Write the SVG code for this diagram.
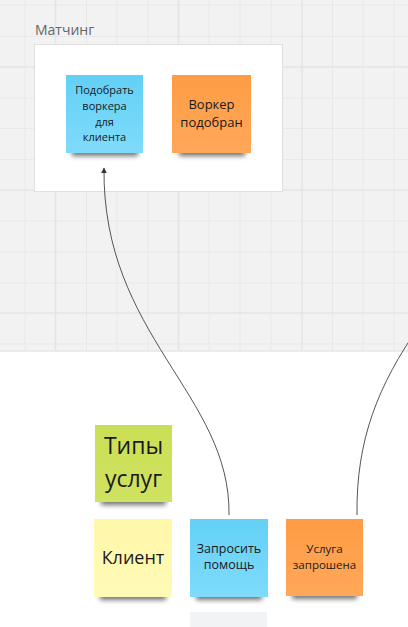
<svg xmlns="http://www.w3.org/2000/svg" width="408" height="627" viewBox="0 0 408 627">
<style>
.grid{stroke:#e8e8e8;stroke-width:1}
.gridM{stroke:#e4e4e4;stroke-width:1.5}
.t{font-family:"Open Sans","Noto Sans",sans-serif;fill:#1a1a1a;text-anchor:middle}
.conn{fill:none;stroke:#555;stroke-width:1}
.sh{fill:#000;opacity:0.55;filter:url(#blur)}
</style>
<defs>
<filter id="blur" x="-20%" y="-100%" width="140%" height="300%"><feGaussianBlur stdDeviation="2.5"/></filter>
<linearGradient id="blue" x1="0" y1="0" x2="0" y2="1"><stop offset="0" stop-color="#63d0f6"/><stop offset="1" stop-color="#7fdbfb"/></linearGradient>
<linearGradient id="orange" x1="0" y1="0" x2="0" y2="1"><stop offset="0" stop-color="#ff9c44"/><stop offset="1" stop-color="#ffa85a"/></linearGradient>
<linearGradient id="green" x1="0" y1="0" x2="0" y2="1"><stop offset="0" stop-color="#cbdf55"/><stop offset="1" stop-color="#d0e261"/></linearGradient>
<linearGradient id="yellow" x1="0" y1="0" x2="0" y2="1"><stop offset="0" stop-color="#fff7a8"/><stop offset="1" stop-color="#fffab8"/></linearGradient>
<marker id="arr" viewBox="0 0 10 10" refX="9" refY="5" markerWidth="6" markerHeight="6" orient="auto" markerUnits="userSpaceOnUse"><path d="M0,0 L10,5 L0,10 z" fill="#333"/></marker>
</defs>
<rect x="0" y="0" width="408" height="627" fill="#ffffff"/>
<g id="canvas-grid">
<rect x="0" y="0" width="408" height="351" fill="#f2f2f2"/>
<g class="grid">
<line x1="25" y1="0" x2="25" y2="351"/><line x1="86.5" y1="0" x2="86.5" y2="351"/><line x1="117" y1="0" x2="117" y2="351"/><line x1="148" y1="0" x2="148" y2="351"/><line x1="209" y1="0" x2="209" y2="351"/><line x1="240" y1="0" x2="240" y2="351"/><line x1="271" y1="0" x2="271" y2="351"/><line x1="332.5" y1="0" x2="332.5" y2="351"/><line x1="363" y1="0" x2="363" y2="351"/><line x1="394" y1="0" x2="394" y2="351"/>
<line x1="0" y1="5" x2="408" y2="5"/><line x1="0" y1="36.5" x2="408" y2="36.5"/><line x1="0" y1="98" x2="408" y2="98"/><line x1="0" y1="128.5" x2="408" y2="128.5"/><line x1="0" y1="159.5" x2="408" y2="159.5"/><line x1="0" y1="221" x2="408" y2="221"/><line x1="0" y1="252" x2="408" y2="252"/><line x1="0" y1="283" x2="408" y2="283"/><line x1="0" y1="344" x2="408" y2="344"/>
</g>
<g class="gridM">
<line x1="55.5" y1="0" x2="55.5" y2="351"/><line x1="178.5" y1="0" x2="178.5" y2="351"/><line x1="302" y1="0" x2="302" y2="351"/>
<line x1="0" y1="67" x2="408" y2="67"/><line x1="0" y1="190" x2="408" y2="190"/><line x1="0" y1="313" x2="408" y2="313"/>
</g>
<line x1="0" y1="351" x2="408" y2="351" stroke="#e6e6e6" stroke-width="1.5"/>
</g>
<g id="frame-matching">
<rect x="34.5" y="44.5" width="248" height="147" fill="#ffffff" stroke="#e0e0e0" stroke-width="1"/>
<text x="35" y="35" style="font-family:'Open Sans','Noto Sans',sans-serif;font-size:14px;fill:#666">Матчинг</text>
</g>
<g id="connectors">
<path class="conn" d="M229,515 C231,395 102,335 104,168" marker-end="url(#arr)"/>
<path class="conn" d="M357,515 C356,440 378,385 420,325"/>
</g>
<g id="node-podobrat">
<rect class="sh" x="72" y="146" width="66" height="10"/>
<rect x="66" y="75" width="77" height="78" fill="url(#blue)"/>
<text class="t" style="font-size:11px"><tspan x="104.5" y="94">Подобрать</tspan><tspan x="104.5" y="110">воркера</tspan><tspan x="104.5" y="126">для</tspan><tspan x="104.5" y="141">клиента</tspan></text>
</g>
<g id="node-worker-found">
<rect class="sh" x="179" y="146" width="66" height="10"/>
<rect x="172" y="75" width="79" height="78" fill="url(#orange)"/>
<text class="t" style="font-size:13px"><tspan x="211.5" y="109">Воркер</tspan><tspan x="211.5" y="127">подобран</tspan></text>
</g>
<g id="node-types">
<rect class="sh" x="101" y="495" width="65" height="10"/>
<rect x="95" y="425" width="77" height="77" fill="url(#green)"/>
<text class="t" style="font-size:23px"><tspan x="133.5" y="454">Типы</tspan><tspan x="133.5" y="487">услуг</tspan></text>
</g>
<g id="node-client">
<rect class="sh" x="100" y="590" width="66" height="10"/>
<rect x="94" y="519" width="78" height="78" fill="url(#yellow)"/>
<text class="t" x="133" y="564" style="font-size:18px">Клиент</text>
</g>
<g id="node-request">
<rect class="sh" x="196" y="590" width="66" height="10"/>
<rect x="190" y="519" width="78" height="78" fill="url(#blue)"/>
<text class="t" style="font-size:12.5px"><tspan x="229" y="553">Запросить</tspan><tspan x="229" y="569">помощь</tspan></text>
</g>
<g id="node-requested">
<rect class="sh" x="292" y="589" width="65" height="10"/>
<rect x="286" y="519" width="77" height="77" fill="url(#orange)"/>
<text class="t" style="font-size:11.5px"><tspan x="324.5" y="553">Услуга</tspan><tspan x="324.5" y="569">запрошена</tspan></text>
</g>
<g id="node-bottom">
<rect x="190" y="612" width="77" height="20" fill="#f2f3f5"/>
</g>
</svg>
